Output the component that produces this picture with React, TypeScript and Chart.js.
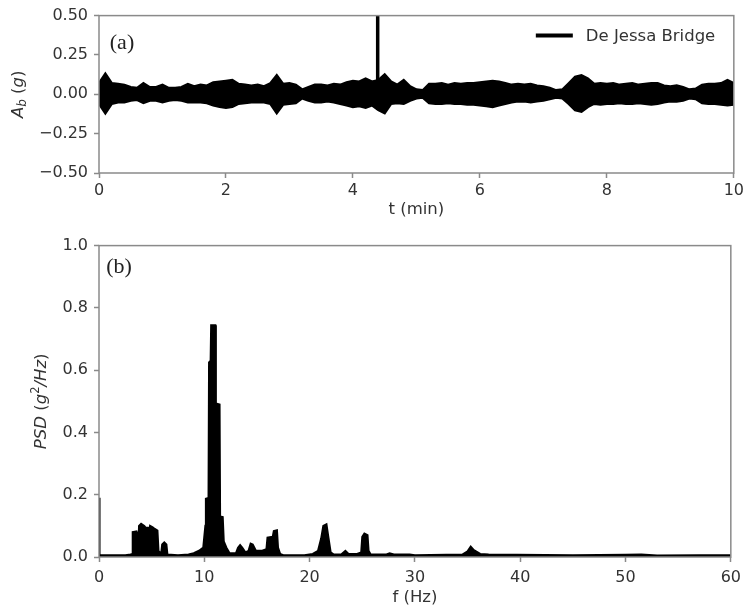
import React, { useEffect, useRef } from "react";
import { Chart, registerables } from "chart.js";

Chart.register(...registerables);

// ---------- (a) acceleration record: time grid (min) and envelope of the signal (g) ----------
const timeMin = [
  0.0, 0.1, 0.2, 0.3, 0.4, 0.5, 0.6, 0.7, 0.8, 0.9,
  1.0, 1.1, 1.2, 1.3, 1.4, 1.5, 1.6, 1.7, 1.8, 1.9,
  2.0, 2.1, 2.2, 2.3, 2.4, 2.5, 2.6, 2.7, 2.8, 2.9,
  3.0, 3.1, 3.2, 3.3, 3.4, 3.5, 3.6, 3.7, 3.8, 3.9,
  4.0, 4.1, 4.2, 4.3, 4.4, 4.5, 4.6, 4.7, 4.8, 4.9,
  5.0, 5.1, 5.2, 5.3, 5.4, 5.5, 5.6, 5.7, 5.8, 5.9,
  6.0, 6.1, 6.2, 6.3, 6.4, 6.5, 6.6, 6.7, 6.8, 6.9,
  7.0, 7.1, 7.2, 7.3, 7.4, 7.5, 7.6, 7.7, 7.8, 7.9,
  8.0, 8.1, 8.2, 8.3, 8.4, 8.5, 8.6, 8.7, 8.8, 8.9,
  9.0, 9.1, 9.2, 9.3, 9.4, 9.5, 9.6, 9.7, 9.8, 9.9,
  10.0,
];
const accelUpper = [
  0.07, 0.13, 0.07, 0.065, 0.06, 0.045, 0.04, 0.07, 0.045, 0.045,
  0.06, 0.04, 0.04, 0.045, 0.065, 0.05, 0.06, 0.055, 0.075, 0.08,
  0.085, 0.09, 0.065, 0.06, 0.055, 0.06, 0.05, 0.07, 0.12, 0.065,
  0.07, 0.06, 0.03, 0.045, 0.06, 0.06, 0.055, 0.065, 0.06, 0.075,
  0.085, 0.08, 0.1, 0.08, 0.09, 0.125, 0.08, 0.06, 0.09, 0.05,
  0.03, 0.025, 0.065, 0.065, 0.07, 0.06, 0.07, 0.065, 0.07, 0.07,
  0.075, 0.08, 0.085, 0.08, 0.07, 0.06, 0.065, 0.06, 0.065, 0.055,
  0.05, 0.04, 0.025, 0.03, 0.07, 0.11, 0.12, 0.1, 0.065, 0.07,
  0.065, 0.07, 0.06, 0.065, 0.07, 0.06, 0.065, 0.07, 0.07, 0.055,
  0.05, 0.055, 0.045, 0.03, 0.035, 0.06, 0.065, 0.065, 0.07, 0.09,
  0.07,
];
const accelLower = [
  -0.06, -0.12, -0.06, -0.05, -0.05, -0.04, -0.035, -0.055, -0.04, -0.04,
  -0.05, -0.04, -0.035, -0.04, -0.05, -0.05, -0.05, -0.055, -0.07, -0.08,
  -0.085, -0.08, -0.06, -0.055, -0.05, -0.05, -0.05, -0.06, -0.12, -0.065,
  -0.06, -0.055, -0.025, -0.04, -0.05, -0.05, -0.045, -0.05, -0.06, -0.07,
  -0.08, -0.075, -0.085, -0.07, -0.1, -0.12, -0.06, -0.055, -0.06, -0.04,
  -0.025, -0.02, -0.055, -0.06, -0.06, -0.055, -0.06, -0.06, -0.065, -0.065,
  -0.07, -0.075, -0.08, -0.07, -0.06, -0.05, -0.045, -0.045, -0.05, -0.045,
  -0.04, -0.03, -0.02, -0.025, -0.06, -0.1, -0.11, -0.08, -0.06, -0.065,
  -0.06, -0.06, -0.055, -0.06, -0.06, -0.055, -0.06, -0.065, -0.06, -0.05,
  -0.045, -0.045, -0.04, -0.025, -0.03, -0.055, -0.06, -0.06, -0.065, -0.07,
  -0.065,
];
const spikeTime = [4.39, 4.39];
const spikeAccel = [0, 0.5];
const timeTicks = [0, 2, 4, 6, 8, 10];
const accelTicks = [-0.5, -0.25, 0, 0.25, 0.5];

// ---------- (b) power spectral density ----------
const freqHz = [
  0, 0.05, 2.5, 3.0, 3.15, 3.2, 3.55, 3.6, 3.75, 3.8,
  4.0, 4.3, 4.4, 4.65, 4.75, 4.85, 5.1, 5.3, 5.55, 5.65,
  5.9, 6.0, 6.2, 6.4, 6.5, 7.5, 8.5, 9.0, 9.5, 9.9,
  10.1, 10.15, 10.4, 10.45, 10.6, 10.65, 11.05, 11.1, 11.45, 11.5,
  11.75, 11.85, 12.1, 12.4, 13.0, 13.2, 13.4, 13.6, 13.9, 14.2,
  14.4, 14.6, 14.9, 15.5, 15.9, 16.0, 16.5, 16.6, 16.9, 17.0,
  17.2, 17.5, 19.5, 20.3, 20.8, 21.1, 21.3, 21.6, 21.8, 22.0,
  22.3, 23.0, 23.4, 23.7, 24.5, 24.9, 25.0, 25.2, 25.5, 25.6,
  25.8, 27.3, 27.6, 28.0, 29.5, 30.0, 34.5, 35.0, 35.3, 35.6,
  36.2, 37.0, 45.0, 50.0, 51.5, 53.0, 57.0, 60.0,
];
const psdValues = [
  0.19, 0.006, 0.006, 0.008, 0.01, 0.08, 0.082, 0.02, 0.03, 0.1,
  0.107, 0.1, 0.095, 0.094, 0.06, 0.1, 0.095, 0.09, 0.085, 0.02,
  0.01, 0.04, 0.047, 0.04, 0.008, 0.006, 0.008, 0.012, 0.02, 0.03,
  0.1, 0.187, 0.19, 0.625, 0.63, 0.744, 0.744, 0.493, 0.49, 0.13,
  0.128, 0.05, 0.03, 0.012, 0.012, 0.03, 0.038, 0.03, 0.015, 0.02,
  0.043, 0.04, 0.02, 0.02, 0.025, 0.062, 0.065, 0.083, 0.086, 0.03,
  0.01, 0.006, 0.006, 0.01, 0.02, 0.06, 0.1, 0.105, 0.06, 0.015,
  0.008, 0.008, 0.02, 0.01, 0.01, 0.015, 0.065, 0.075, 0.07, 0.02,
  0.008, 0.008, 0.012, 0.008, 0.008, 0.006, 0.008, 0.018, 0.033, 0.022,
  0.01, 0.008, 0.006, 0.007, 0.008, 0.005, 0.006, 0.006,
];
const freqTicks = [0, 10, 20, 30, 40, 50, 60];
const psdTicks = [0, 0.2, 0.4, 0.6, 0.8, 1.0];

const legendLabel = "De Jessa Bridge";

// ---------- helpers ----------
const SANS = '"DejaVu Sans", sans-serif';
const TEXT = "#333333";
const SPINE = "#8a8a8a";

type Seg = { t: string; italic?: boolean; size?: number; dy?: number };

function drawRich(
  ctx: CanvasRenderingContext2D,
  segs: Seg[],
  cx: number,
  cy: number,
  rotate: boolean,
  base: number
) {
  ctx.save();
  ctx.translate(cx, cy);
  if (rotate) ctx.rotate(-Math.PI / 2);
  ctx.fillStyle = TEXT;
  ctx.textBaseline = "middle";
  ctx.textAlign = "left";
  const fontOf = (s: Seg) => `${s.italic ? "italic " : ""}${s.size ?? base}px ${SANS}`;
  let total = 0;
  for (const s of segs) {
    ctx.font = fontOf(s);
    total += ctx.measureText(s.t).width;
  }
  let x = -total / 2;
  for (const s of segs) {
    ctx.font = fontOf(s);
    ctx.fillText(s.t, x, s.dy ?? 0);
    x += ctx.measureText(s.t).width;
  }
  ctx.restore();
}

type Deco = {
  panel: string;
  panelX: number;
  panelY: number;
  xTitle: Seg[];
  xTitleDy: number;
  yTitle: Seg[];
  yTitleX: number;
  legend?: boolean;
};

function decoPlugin(d: Deco) {
  return {
    id: "deco",
    afterDraw(chart: any) {
      const { ctx, chartArea: a } = chart;
      ctx.save();
      // spines
      ctx.strokeStyle = SPINE;
      ctx.lineWidth = 1.5;
      ctx.strokeRect(a.left, a.top, a.right - a.left, a.bottom - a.top);
      // panel label
      ctx.fillStyle = "#222";
      ctx.font = `22px "Liberation Serif", serif`;
      ctx.textAlign = "center";
      ctx.textBaseline = "middle";
      ctx.fillText(d.panel, a.left + d.panelX, a.top + d.panelY);
      // legend
      if (d.legend) {
        const ly = a.top + 20;
        ctx.strokeStyle = "#000";
        ctx.lineWidth = 4;
        ctx.beginPath();
        ctx.moveTo(a.right - 198, ly);
        ctx.lineTo(a.right - 161, ly);
        ctx.stroke();
        ctx.fillStyle = TEXT;
        ctx.font = `16.5px ${SANS}`;
        ctx.textAlign = "left";
        ctx.textBaseline = "middle";
        ctx.fillText(legendLabel, a.right - 148, ly + 1);
      }
      ctx.restore();
      drawRich(ctx, d.xTitle, (a.left + a.right) / 2, a.bottom + d.xTitleDy, false, 16.5);
      drawRich(ctx, d.yTitle, d.yTitleX, (a.top + a.bottom) / 2, true, 16.5);
    },
  };
}

function axisCommon(ticks: number[], fmt: (v: number) => string, pad: number) {
  return {
    type: "linear" as const,
    min: ticks[0],
    max: ticks[ticks.length - 1],
    afterBuildTicks: (s: any) => {
      s.ticks = ticks.map((v) => ({ value: v }));
    },
    grid: {
      drawOnChartArea: false,
      drawTicks: true,
      tickLength: 5,
      tickWidth: 1.5,
      color: SPINE,
    },
    border: { display: false },
    ticks: {
      color: TEXT,
      font: { family: SANS, size: 16 },
      padding: pad,
      maxRotation: 0,
      autoSkip: false,
      callback: (v: any) => fmt(Number(v)),
    },
  };
}

const minus = (s: string) => s.replace("-", "\u2212");

export default function App() {
  const topRef = useRef<HTMLCanvasElement>(null);
  const botRef = useRef<HTMLCanvasElement>(null);

  useEffect(() => {
    const upperPts = timeMin.map((t, i) => ({ x: t, y: accelUpper[i] }));
    const lowerPts = timeMin.map((t, i) => ({ x: t, y: accelLower[i] }));
    const spikePts = spikeTime.map((t, i) => ({ x: t, y: spikeAccel[i] }));

    const top = new Chart(topRef.current!, {
      type: "line",
      data: {
        datasets: [
          {
            data: upperPts,
            borderColor: "#000",
            backgroundColor: "#000",
            borderWidth: 2.5,
            pointRadius: 0,
            fill: "+1",
            tension: 0,
          },
          {
            data: lowerPts,
            borderColor: "#000",
            backgroundColor: "#000",
            borderWidth: 2.5,
            pointRadius: 0,
            fill: false,
            tension: 0,
          },
          {
            data: spikePts,
            borderColor: "#000",
            borderWidth: 3.5,
            pointRadius: 0,
            fill: false,
          },
        ],
      },
      options: {
        responsive: false,
        animation: false,
        events: [],
        layout: { padding: { top: 15, right: 13, left: 0, bottom: 0 } },
        plugins: { legend: { display: false }, tooltip: { enabled: false } },
        scales: {
          x: {
            ...axisCommon(timeTicks, (v) => String(v), 3),
            position: "bottom",
            afterFit: (s: any) => {
              s.height = 57;
            },
          },
          y: {
            ...axisCommon(accelTicks, (v) => minus(v.toFixed(2)), 6),
            position: "left",
            afterFit: (s: any) => {
              s.width = 99;
            },
          },
        },
      } as any,
      plugins: [
        decoPlugin({
          panel: "(a)",
          panelX: 23,
          panelY: 28,
          xTitle: [{ t: "t (min)" }],
          xTitleDy: 37,
          yTitle: [
            { t: "A", italic: true },
            { t: "b", italic: true, size: 12, dy: 4 },
            { t: " (" },
            { t: "g", italic: true },
            { t: ")" },
          ],
          yTitleX: 19,
          legend: true,
        }) as any,
      ],
    });

    const psdPts = freqHz.map((f, i) => ({ x: f, y: psdValues[i] }));
    const bot = new Chart(botRef.current!, {
      type: "line",
      data: {
        datasets: [
          {
            data: psdPts,
            borderColor: "#000",
            backgroundColor: "#000",
            borderWidth: 2,
            pointRadius: 0,
            fill: "origin",
            tension: 0,
          },
        ],
      },
      options: {
        responsive: false,
        animation: false,
        events: [],
        layout: { padding: { top: 12, right: 13, left: 0, bottom: 0 } },
        plugins: { legend: { display: false }, tooltip: { enabled: false } },
        scales: {
          x: {
            ...axisCommon(freqTicks, (v) => String(v), 6),
            position: "bottom",
            afterFit: (s: any) => {
              s.height = 54;
            },
          },
          y: {
            ...axisCommon(psdTicks, (v) => v.toFixed(1), 6),
            position: "left",
            afterFit: (s: any) => {
              s.width = 99;
            },
          },
        },
      } as any,
      plugins: [
        decoPlugin({
          panel: "(b)",
          panelX: 20,
          panelY: 22,
          xTitle: [{ t: "f (Hz)" }],
          xTitleDy: 41,
          yTitle: [
            { t: "PSD", italic: true },
            { t: " (" },
            { t: "g", italic: true },
            { t: "2", size: 11.5, dy: -6 },
            { t: "/Hz", italic: true },
            { t: ")" },
          ],
          yTitleX: 42,
        }) as any,
      ],
    });

    return () => {
      top.destroy();
      bot.destroy();
    };
  }, []);

  return (
    <div
      style={{
        position: "absolute",
        left: 0,
        top: 0,
        width: 747,
        height: 611,
        background: "#fff",
      }}
    >
      <canvas
        ref={topRef}
        width={747}
        height={230}
        style={{ position: "absolute", left: 0, top: 0 }}
      />
      <canvas
        ref={botRef}
        width={747}
        height={381}
        style={{ position: "absolute", left: 0, top: 230 }}
      />
    </div>
  );
}
